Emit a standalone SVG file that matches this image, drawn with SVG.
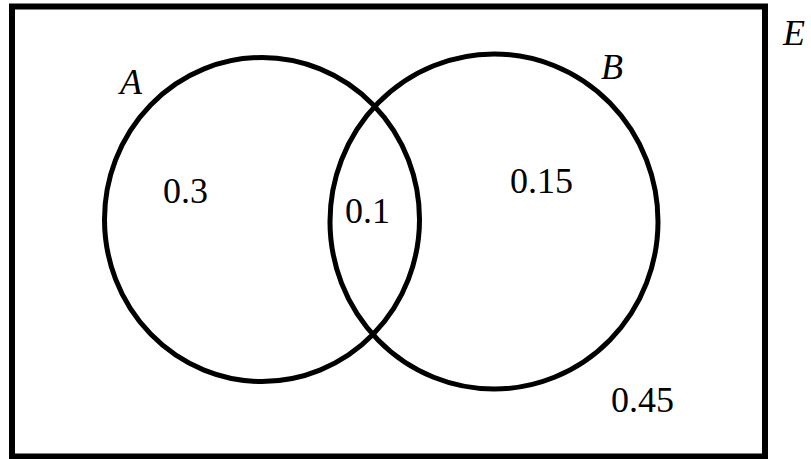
<svg xmlns="http://www.w3.org/2000/svg" width="811" height="459" viewBox="0 0 811 459">
<style>
.shape{fill:none;stroke:#000;stroke-width:5}
text{font-size:36px;fill:#000}
.i{font-style:italic}
</style>
<rect width="811" height="459" fill="#fff"/>
<g id="universe">
<rect x="12" y="6.5" width="753" height="450" fill="none" stroke="#000" stroke-width="6"/>
<text class="i" font-family="Liberation Serif, serif" x="783" y="45">E</text>
</g>
<g id="setA">
<ellipse class="shape" cx="262" cy="219.5" rx="157.5" ry="162"/>
<text class="i" font-family="Liberation Serif, serif" x="120" y="94">A</text>
</g>
<g id="setB">
<ellipse class="shape" cx="494" cy="221.5" rx="164" ry="167.5"/>
<text class="i" font-family="Liberation Serif, serif" x="601" y="79">B</text>
</g>
<g id="labels" font-family="Liberation Serif, serif">
<text x="163" y="203">0.3</text>
<text x="345" y="223">0.1</text>
<text x="510" y="193">0.15</text>
<text x="611" y="412">0.45</text>
</g>
<g id="connectors"/>
</svg>
